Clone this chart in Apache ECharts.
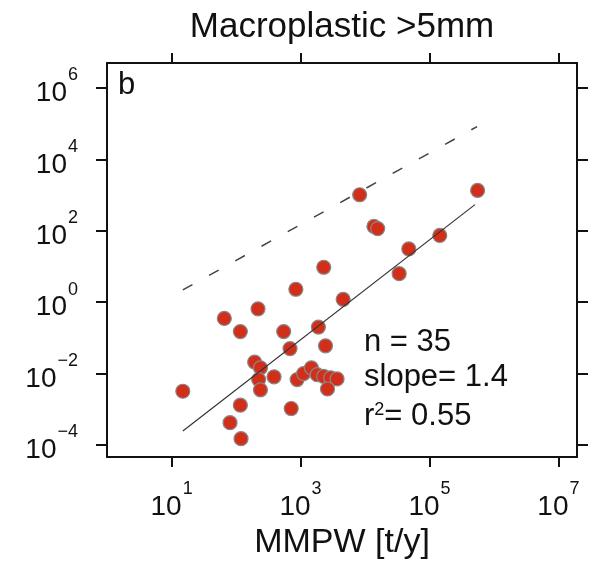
<!DOCTYPE html>
<html>
<head>
<meta charset="utf-8">
<script src="https://cdn.jsdelivr.net/npm/echarts@6/dist/echarts.min.js"></script>
<style>
  html, body { margin: 0; padding: 0; background: #fff; }
  #chart { width: 593px; height: 565px; }
</style>
</head>
<body>
<div id="chart"></div>
<script>
// tick exponents (decades)
const xTicks = [1, 3, 5, 7];
const yTicks = [-4, -2, 0, 2, 4, 6];

// MMPW [t/y] and macroplastic emission
const mmpw = [15, 2300, 850, 4600, 220, 66, 117, 550, 1900, 690,
  2450, 195, 240, 225, 390, 240, 890, 1120, 1480, 1820,
  2290, 2950, 3700, 2630, 117, 720, 81, 120, 8300, 560000,
  13800, 15800, 145000, 48000, 34000];
const emission = [3.2e-3, 9.5, 2.3, 1.2, 0.65, 0.35, 0.15, 0.15, 0.2, 0.05,
  0.06, 0.021, 0.0145, 0.0068, 0.0081, 0.0035, 0.0068, 0.01, 0.0145, 0.0093,
  0.0083, 0.0076, 0.0071, 0.0037, 0.0013, 0.00105, 0.00042, 0.00015, 1020, 1350,
  132, 115, 74, 31, 6.3];

// regression line and 1:1 line end points
const fitX = [15, 510000];
const fitY = [2.45e-4, 540];
const oneX = [15, 550000];
const oneY = [2.2, 83000];

const stats = ['n = 35', 'slope= 1.4', '0.55'];

const font = 'Liberation Sans, Arial, sans-serif';
const ink = '#111';

const lg = v => Math.log10(v);
const pairs = (xs, ys) => xs.map((x, i) => [lg(x), lg(ys[i])]);

// 10 with raised exponent; the h token only makes the line taller
const powLabel = v => '{h| }{b|10}{s|' + String(v).replace('-', '\u2212') + '}';
const powRich = {
  h: { fontSize: 1, lineHeight: 41 },
  b: { fontSize: 28, fontFamily: font, color: ink, lineHeight: 36, verticalAlign: 'bottom' },
  s: { fontSize: 18, fontFamily: font, color: ink, lineHeight: 18, verticalAlign: 'top', padding: [0, 0, 0, 1] }
};

const boxLine = { show: true, onZero: false, lineStyle: { color: ink, width: 2 } };

const xBase = {
  type: 'value',
  min: 0,
  max: 7.29,
  splitLine: { show: false },
  axisLine: boxLine,
  axisTick: { customValues: xTicks, length: 10, lineStyle: { color: ink, width: 2 } }
};
const yBase = {
  type: 'value',
  min: -4.34,
  max: 6.70,
  splitLine: { show: false },
  axisLine: boxLine,
  axisTick: { customValues: yTicks, length: 11, lineStyle: { color: ink, width: 2 } }
};

const myChart = echarts.init(document.getElementById('chart'));

const option = {
  animation: false,
  grid: { left: 107, right: 16, top: 63, bottom: 107 },
  xAxis: [
    Object.assign({}, xBase, {
      position: 'bottom',
      name: 'MMPW [t/y]',
      nameLocation: 'middle',
      nameGap: 64,
      nameTextStyle: { fontSize: 34, fontFamily: font, color: ink },
      axisLabel: { customValues: xTicks, margin: 23, formatter: powLabel, rich: powRich }
    }),
    Object.assign({}, xBase, {
      position: 'top',
      name: 'Macroplastic >5mm',
      nameLocation: 'middle',
      nameGap: 18,
      nameTextStyle: { fontSize: 35, fontFamily: font, color: ink },
      axisLabel: { show: false }
    })
  ],
  yAxis: [
    Object.assign({}, yBase, {
      position: 'left',
      axisLabel: { customValues: yTicks, margin: 29, padding: [0, 0, 2, 0], formatter: powLabel, rich: powRich }
    }),
    Object.assign({}, yBase, {
      position: 'right',
      axisLabel: { show: false }
    })
  ],
  graphic: [
    { type: 'text', left: 118, top: 70, style: { text: 'b', font: '31px ' + font, fill: ink } },
    { type: 'text', left: 364, top: 327, style: { text: stats[0], font: '31px ' + font, fill: ink } },
    { type: 'text', left: 364, top: 362, style: { text: stats[1], font: '31px ' + font, fill: ink } },
    {
      type: 'text', left: 364, top: 401,
      style: {
        text: '{r|r}{s|2}{r|= ' + stats[2] + '}',
        fill: ink,
        rich: {
          r: { fontSize: 31, fontFamily: font, fill: ink, lineHeight: 31, verticalAlign: 'bottom' },
          s: { fontSize: 18, fontFamily: font, fill: ink, lineHeight: 20, verticalAlign: 'top' }
        }
      }
    }
  ],
  series: [
    {
      type: 'scatter',
      data: pairs(mmpw, emission),
      symbolSize: 14,
      itemStyle: { color: '#d22f1a', borderColor: '#888', borderWidth: 1.2, opacity: 1 },
      z: 3
    },
    {
      type: 'line',
      data: pairs(fitX, fitY),
      symbol: 'none',
      lineStyle: { color: '#333', width: 1.2 },
      z: 4
    },
    {
      type: 'line',
      data: pairs(oneX, oneY),
      symbol: 'none',
      lineStyle: { color: '#444', width: 1.5, type: [11, 19] },
      z: 4
    }
  ]
};

myChart.setOption(option);
</script>
</body>
</html>
